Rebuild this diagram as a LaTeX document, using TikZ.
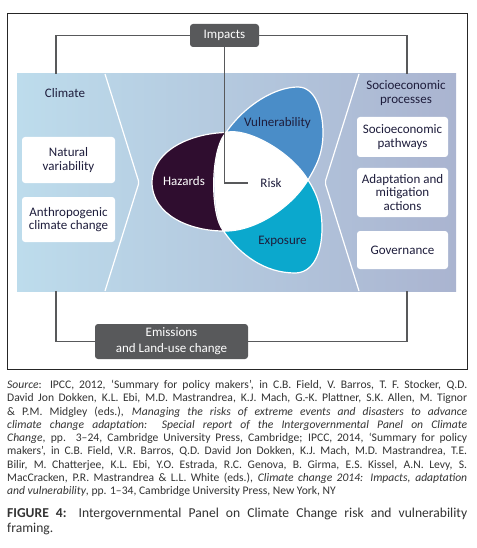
\documentclass[tikz,border=0pt]{standalone}
\usepackage{fontspec}
\setmainfont{Carlito}
\usetikzlibrary{calc}
\definecolor{cgray}{HTML}{58595B}
\definecolor{ctext}{HTML}{1E1D3C}
\definecolor{ccap}{HTML}{333333}
\definecolor{bandL}{HTML}{BDDCEC}
\definecolor{bandR}{HTML}{AAB4D0}
\definecolor{haz}{HTML}{2F0D2F}
\definecolor{vul}{HTML}{4A8DC8}
\definecolor{expo}{HTML}{0BA8CD}
\newcommand{\jsetup}{\parindent=0pt\parfillskip=0pt\tolerance=10000\hyphenpenalty=10000\exhyphenpenalty=10000\spaceskip=0.226em plus 1em minus 0.1em\relax}
\tikzset{
  wbox/.style={fill=white, rounded corners=3pt, inner sep=0pt, align=center,
    text=ctext, font=\fontsize{13}{13.3}\selectfont, minimum width=92pt},
  gbox/.style={fill=cgray, rounded corners=3pt, inner sep=0pt, align=center,
    text=white, font=\fontsize{13}{16}\selectfont},
  conn/.style={draw=cgray, line width=1.4pt},
  petal/.style={draw=white, line width=1.2pt},
  lbl/.style={inner sep=0pt, align=center, font=\fontsize{13}{13.3}\selectfont, text=ctext}
}
\begin{document}
\begin{tikzpicture}[x=1pt,y=-1pt]
\useasboundingbox (0,0) rectangle (476,548);
\fill[white] (0,0) rectangle (476,548);
% frame
\draw[line width=0.9pt, black!85] (7,13) rectangle (467,369.5);
% band
\shade[left color=bandL, right color=bandR] (17,74) rectangle (456,291);
% chevrons
\draw[white, line width=1.2pt, rounded corners=2pt] (105,74) -- (139,182.5) -- (105,291);
\draw[white, line width=1.2pt, rounded corners=2pt] (359,74) -- (325,182.5) -- (359,291);
% coordinates for connector ends
\coordinate (climtop) at (56,74);
\coordinate (socitop) at (407,74);
\coordinate (climbot) at (56,291);
\coordinate (socibot) at (407,291);
% petals
\coordinate (A) at (226,132.5);
\coordinate (B) at (308,180);
\coordinate (C) at (223.5,231);
\fill[white] (A) .. controls (245,127) and (290,150) .. (B)
  .. controls (292,207) and (255,232) .. (C)
  .. controls (212,215) and (210,150) .. (A) -- cycle;
\path[petal, fill=haz] (A) .. controls (195,133) and (153,148) .. (152,182)
  .. controls (152,215) and (190,231) .. (C)
  .. controls (210,215) and (210,150) .. (A) -- cycle;
\path[petal, fill=vul] (A) .. controls (245,105) and (275,87) .. (298,87)
  .. controls (315,87) and (323,110) .. (323,133)
  .. controls (323,155) and (315,168) .. (B)
  .. controls (290,150) and (245,127) .. (A) -- cycle;
\path[petal, fill=expo] (B) .. controls (318,195) and (322,210) .. (322,228)
  .. controls (322,255) and (312,273) .. (295,273)
  .. controls (265,273) and (240,255) .. (C)
  .. controls (255,232) and (292,207) .. (B) -- cycle;
% labels in petals
\node[lbl, text=white] (hazards) at (184,181) {Hazards};
\node[lbl] (vulner) at (277.5,123) {Vulnerability};
\node[lbl] (risk) at (271,183) {Risk};
\node[lbl] (exposure) at (282.5,241) {Exposure};
% titles
\node[lbl] (climate) at (65,93) {Climate};
\node[lbl] (socio) at (406,93) {Socioeconomic\\processes};
% boxes
\node[wbox, minimum width=93pt, minimum height=46pt] (natural) at (68.5,160) {Natural\\variability};
\node[wbox, minimum width=93pt, minimum height=45pt] (anthro) at (68.5,219.5) {Anthropogenic\\climate change};
\node[wbox, minimum width=91pt, minimum height=40pt] (pathways) at (402.5,137) {Socioeconomic\\pathways};
\node[wbox, minimum width=91pt, minimum height=49pt] (adapt) at (402.5,192.5) {Adaptation and\\mitigation\\actions};
\node[wbox, minimum width=91pt, minimum height=38pt] (gov) at (402.5,250) {Governance};
\node[gbox, minimum width=69pt, minimum height=23pt] (impacts) at (224.5,35.5) {Impacts};
\node[gbox, minimum width=153pt, minimum height=35pt] (emis) at (171.5,341.5) {Emissions\\and Land-use change};
% connectors
\draw[conn] (impacts.west) -| (climtop);
\draw[conn] (impacts.east) -| (socitop);
\draw[conn] (impacts.south) -- (impacts.south |- risk) -- ([xshift=-12pt]risk.west);
\draw[conn] (climbot) |- (emis.west);
\draw[conn] (emis.east) -| (socibot);
% source text
\node[anchor=north west, inner sep=0pt, text width=460pt, align=justify,
  font=\fontsize{11.6}{13.25}\selectfont, text=ccap] (source) at (7,380) {\jsetup
\textit{Source}: IPCC, 2012, ‘Summary for policy makers’, in C.B. Field, V. Barros, T. F. Stocker, Q.D.\par
David Jon Dokken, K.L. Ebi, M.D. Mastrandrea, K.J. Mach, G.-K. Plattner, S.K. Allen, M. Tignor\par
\& P.M. Midgley (eds.), \textit{Managing the risks of extreme events and disasters to advance}\par
\textit{climate change adaptation: Special report of the Intergovernmental Panel on Climate}\par
\textit{Change}, pp. 3–24, Cambridge University Press, Cambridge; IPCC, 2014, ‘Summary for policy\par
makers’, in C.B. Field, V.R. Barros, Q.D. David Jon Dokken, K.J. Mach, M.D. Mastrandrea, T.E.\par
Bilir, M. Chatterjee, K.L. Ebi, Y.O. Estrada, R.C. Genova, B. Girma, E.S. Kissel, A.N. Levy, S.\par
MacCracken, P.R. Mastrandrea \& L.L. White (eds.), \textit{Climate change 2014: Impacts, adaptation}\par
\textit{and vulnerability}, pp. 1–34, Cambridge University Press, New York, NY\hspace*{\fill}};
\node[anchor=north west, inner sep=0pt, text width=460pt, align=justify,
  font=\fontsize{13.6}{14.5}\selectfont, text=ccap] (caption) at (7,508) {\jsetup
\textbf{FIGURE 4:} Intergovernmental Panel on Climate Change risk and vulnerability\par
framing.\hspace*{\fill}};
\end{tikzpicture}
\end{document}
